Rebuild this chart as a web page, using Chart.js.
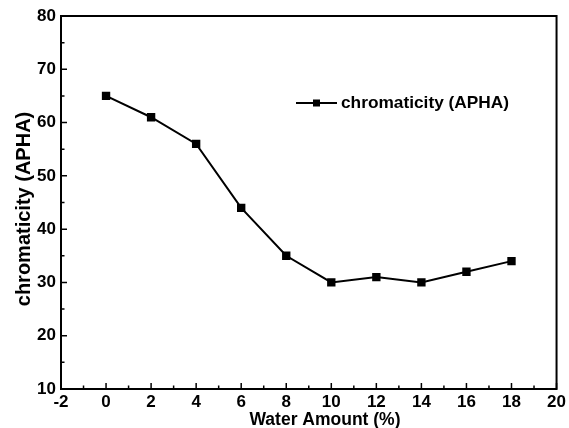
<!DOCTYPE html>
<html>
<head>
<meta charset="utf-8">
<script src="https://cdn.jsdelivr.net/npm/chart.js@4.4.0/dist/chart.umd.min.js"></script>
<style>
  html, body { margin: 0; padding: 0; background: #fff; }
  #wrap { width: 569px; height: 428px; }
</style>
</head>
<body>
<div id="wrap"><canvas id="c" width="569" height="428"></canvas></div>
<script>
const waterAmount = [0, 2, 4, 6, 8, 10, 12, 14, 16, 18];
const chromaticity = [65, 61, 56, 44, 35, 30, 31, 30, 32, 34];
const seriesName = 'chromaticity (APHA)';
const xTitle = 'Water Amount (%)';
const yTitle = 'chromaticity (APHA)';

const FONT = '"Liberation Sans", Arial, sans-serif';

// box frame + inward ticks + axis titles + legend inside the plot
const framePlugin = {
  id: 'frame',
  afterDraw(chart) {
    const ctx = chart.ctx;
    const a = chart.chartArea;
    const xs = chart.scales.x, ys = chart.scales.y;
    ctx.save();
    ctx.strokeStyle = '#000';
    ctx.lineWidth = 2;
    ctx.strokeRect(a.left, a.top, a.right - a.left, a.bottom - a.top);

    ctx.lineWidth = 1.5;
    ctx.beginPath();
    for (let v = -2; v <= 20; v += 1) {
      const px = xs.getPixelForValue(v);
      const len = v % 2 === 0 ? 6 : 3.5;
      ctx.moveTo(px, a.bottom);
      ctx.lineTo(px, a.bottom - len);
    }
    for (let v = 10; v <= 80; v += 5) {
      const py = ys.getPixelForValue(v);
      const len = v % 10 === 0 ? 6 : 3.5;
      ctx.moveTo(a.left, py);
      ctx.lineTo(a.left + len, py);
    }
    ctx.stroke();

    ctx.fillStyle = '#000';
    ctx.textAlign = 'center';
    ctx.textBaseline = 'middle';
    ctx.font = 'bold 17.5px ' + FONT;
    ctx.fillText(xTitle, 325, 420);

    ctx.save();
    ctx.translate(24, 209);
    ctx.rotate(-Math.PI / 2);
    ctx.font = 'bold 20px ' + FONT;
    ctx.fillText(yTitle, 0, 0);
    ctx.restore();

    // legend
    const lx = 296, ly = 103;
    ctx.lineWidth = 2;
    ctx.beginPath();
    ctx.moveTo(lx, ly);
    ctx.lineTo(lx + 41, ly);
    ctx.stroke();
    ctx.fillRect(lx + 20.5 - 3.5, ly - 3.5, 7, 7);
    ctx.font = 'bold 17.3px ' + FONT;
    ctx.textAlign = 'left';
    ctx.fillText(seriesName, lx + 45, ly);
    ctx.restore();
  }
};

new Chart(document.getElementById('c'), {
  type: 'line',
  data: {
    datasets: [{
      label: seriesName,
      data: waterAmount.map((x, i) => ({ x: x, y: chromaticity[i] })),
      borderColor: '#000',
      backgroundColor: '#000',
      borderWidth: 2,
      pointStyle: 'rect',
      pointRadius: 4.5,
      pointHoverRadius: 4.5,
      tension: 0
    }]
  },
  options: {
    responsive: false,
    animation: false,
    layout: { padding: { left: 0, top: 16, right: 11, bottom: 0 } },
    plugins: {
      legend: { display: false },
      tooltip: { enabled: false }
    },
    scales: {
      x: {
        type: 'linear',
        min: -2,
        max: 20,
        border: { display: false },
        grid: { display: false, drawTicks: false },
        ticks: {
          stepSize: 2,
          padding: 3,
          color: '#000',
          font: { family: FONT, size: 17, weight: 'bold' },
          maxRotation: 0,
          autoSkip: false
        },
        afterFit(scale) { scale.height = 39; }
      },
      y: {
        min: 10,
        max: 80,
        border: { display: false },
        grid: { display: false, drawTicks: false },
        ticks: {
          stepSize: 10,
          padding: 5,
          color: '#000',
          font: { family: FONT, size: 17, weight: 'bold' }
        },
        afterFit(scale) { scale.width = 61; }
      }
    }
  },
  plugins: [framePlugin]
});
</script>
</body>
</html>
